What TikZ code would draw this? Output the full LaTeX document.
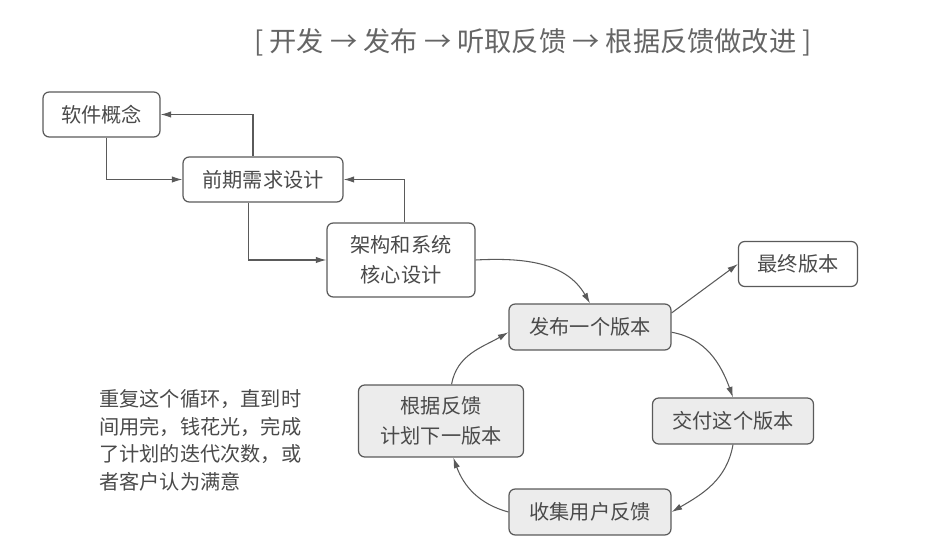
\documentclass[tikz,border=0pt]{standalone}
\usepackage{fontspec}
\setmainfont{Noto Sans CJK SC}
\usepackage{xcolor}
\definecolor{itink}{HTML}{4A4A4A}
\definecolor{itline}{HTML}{5A5A5A}
\definecolor{itfill}{HTML}{ECECEC}
\usepackage{tikz}
\usetikzlibrary{arrows.meta}
\tikzset{
  itbox/.style   ={rectangle, rounded corners=3.5pt, draw=itline, fill=white,
                   line width=0.7pt, minimum width=2.4cm, minimum height=0.9cm,
                   align=center, font=\fontsize{11.5}{17}\selectfont, text=itink},
  itcycle/.style ={itbox, fill=itfill},
  itarrow/.style ={-{Latex[length=6pt,width=3.6pt]}, line width=0.6pt, draw=itline},
  itnote/.style  ={font=\fontsize{11.5}{15.8}\selectfont, text=itink, align=left},
  ittitle/.style ={font=\fontsize{15.5}{18}\selectfont, text=itink!85},
}

\begin{document}
\begin{tikzpicture}[x=0.02cm, y=0.02cm]
  \useasboundingbox (0,0) rectangle (933,547);
  \node[ittitle] (title) at (533,505)
       {[ 开发 → 发布 → 听取反馈 → 根据反馈做改进 ]};
  % waterfall part
  \node[itbox, minimum width=2.34cm] (concept) at (101.5,432.5) {软件概念};
  \node[itbox, minimum width=3.2cm] (reqs) at (263,367.5) {前期需求设计};
  \node[itbox, minimum width=2.96cm, minimum height=1.48cm] (arch) at (401,287)
       {架构和系统\\核心设计};
  \draw[itarrow] ([xshift=3pt]concept.south) |- (reqs.west);
  \draw[itarrow] ([xshift=-5.7pt]reqs.north) |- (concept.east);
  \draw[itarrow] ([xshift=-8.5pt]reqs.south) |- (arch.west);
  \draw[itarrow] ([xshift=2pt]arch.north) |- (reqs.east);
  % release cycle
  \node[itcycle, minimum width=3.24cm, minimum height=0.92cm] (release) at (590,220) {发布一个版本};
  \node[itcycle, minimum width=3.22cm, minimum height=0.92cm] (deliver) at (733,126) {交付这个版本};
  \node[itcycle, minimum width=3.24cm, minimum height=0.92cm] (collect) at (590,35) {收集用户反馈};
  \node[itcycle, minimum width=3.3cm, minimum height=1.44cm] (plan) at (441,126)
       {根据反馈\\计划下一版本};
  \node[itbox, minimum width=2.38cm] (final) at (798,283) {最终版本};
  \draw[itarrow] (arch.east) to[out=3, in=120] (release.north);
  \draw[itarrow] ([yshift=8pt]release.east) -- (final.west);
  \draw[itarrow] ([yshift=-3pt]release.east) to[out=-10, in=110] (deliver.north);
  \draw[itarrow] (deliver.south) to[out=-100, in=30] (collect.east);
  \draw[itarrow] (collect.west) to[out=165, in=-70] ([xshift=7pt]plan.south);
  \draw[itarrow] ([xshift=6pt]plan.north) to[out=80, in=210] ([yshift=-3pt]release.west);
  \node[itnote, anchor=north west] (note) at (93,164)
       {重复这个循环，直到时\\间用完，钱花光，完成\\了计划的迭代次数，或\\者客户认为满意};
\end{tikzpicture}
\end{document}
